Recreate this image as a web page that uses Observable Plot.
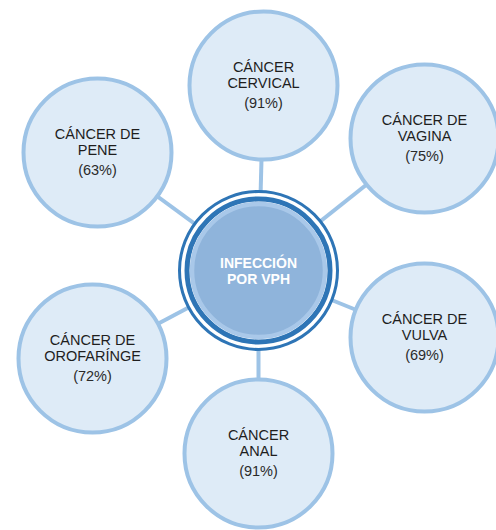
<!DOCTYPE html>
<html>
<head>
<meta charset="utf-8">
<script src="https://cdn.jsdelivr.net/npm/d3@7"></script>
<script src="https://cdn.jsdelivr.net/npm/@observablehq/plot@0.6"></script>
<style>
  html, body { margin: 0; padding: 0; background: #ffffff; }
  #chart svg { display: block; }
</style>
</head>
<body>
<div id="chart"></div>
<script>
// Data
const categories = [
  "CÁNCER\nCERVICAL",
  "CÁNCER DE\nVAGINA",
  "CÁNCER DE\nVULVA",
  "CÁNCER\nANAL",
  "CÁNCER DE\nOROFARÍNGE",
  "CÁNCER DE\nPENE"
];
const values = [91, 75, 69, 91, 72, 63];
const centerLabel = "INFECCIÓN\nPOR VPH";

// Diagram layout (node centres in diagram coordinates)
const nodeX = [263, 424, 424, 258, 92, 97];
const nodeY = [85, 138, 337, 453, 358, 152];
const hubX = 258, hubY = 270;

const nodes = categories.map((c, i) => ({
  label: c,
  pct: `(${values[i]}%)`,
  x: nodeX[i],
  y: nodeY[i]
}));
const hub = [{x: hubX, y: hubY, label: centerLabel}];

const font = "Liberation Sans, Arial, Helvetica, sans-serif";

const chart = Plot.plot({
  width: 496,
  height: 530,
  margin: 0,
  x: {domain: [0, 496], range: [0, 496], axis: null},
  y: {domain: [0, 530], range: [0, 530], axis: null},
  style: {background: "#ffffff", fontFamily: font},
  marks: [
    Plot.link(nodes, {
      x1: () => hubX, y1: () => hubY, x2: "x", y2: "y",
      stroke: "#9dc3e6", strokeWidth: 4
    }),
    Plot.dot(nodes, {x: "x", y: "y", r: 74, fill: "#deebf7", stroke: "#9dc3e6", strokeWidth: 4}),
    Plot.text(nodes, {
      x: "x", y: "y", text: "label", dy: -11, lineAnchor: "middle",
      lineHeight: 1.1, fontSize: 14.5, fill: "#1e1e1e", textAnchor: "middle"
    }),
    Plot.text(nodes, {
      x: "x", y: "y", text: "pct", dy: 18, lineAnchor: "middle",
      fontSize: 14.5, fill: "#2a2a2a", textAnchor: "middle"
    }),
    Plot.dot(hub, {x: "x", y: "y", r: 79, fill: "#ffffff", stroke: "#2e75b6", strokeWidth: 3}),
    Plot.dot(hub, {x: "x", y: "y", r: 71.5, fill: "none", stroke: "#2e75b6", strokeWidth: 5}),
    Plot.dot(hub, {x: "x", y: "y", r: 66.5, fill: "#8fb4db", stroke: "#a9c8e9", strokeWidth: 4.5}),
    Plot.text(hub, {
      x: "x", y: "y", text: "label", lineAnchor: "middle", lineHeight: 1.14,
      fontSize: 14, fontWeight: "bold", fill: "#ffffff", textAnchor: "middle"
    })
  ]
});
document.getElementById("chart").appendChild(chart);
</script>
</body>
</html>
